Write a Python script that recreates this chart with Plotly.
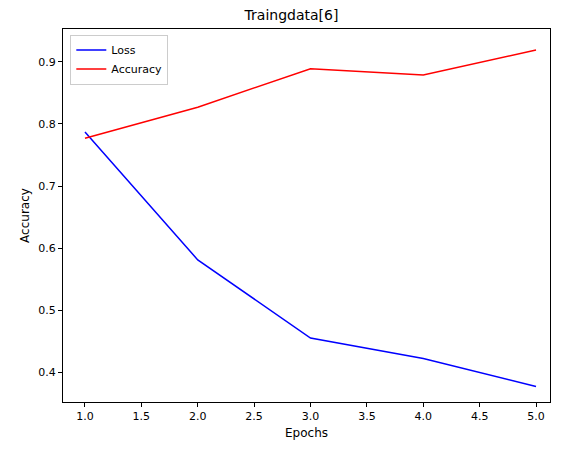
import plotly.graph_objects as go

epochs = [1, 2, 3, 4, 5]
loss = [0.787, 0.581, 0.455, 0.422, 0.377]
accuracy = [0.777, 0.827, 0.889, 0.879, 0.919]

fig = go.Figure()
fig.add_trace(go.Scatter(x=epochs, y=loss, mode="lines", name="Loss",
                         line=dict(color="blue", width=1.5)))
fig.add_trace(go.Scatter(x=epochs, y=accuracy, mode="lines", name="Accuracy",
                         line=dict(color="red", width=1.5)))

axis_style = dict(showgrid=False, zeroline=False, showline=True, mirror=True,
                  linecolor="black", linewidth=1, ticks="outside", ticklen=4,
                  tickcolor="black", tickfont=dict(size=11, color="black"))

fig.update_layout(
    width=567, height=455,
    margin=dict(l=55, r=25, t=21, b=61),
    paper_bgcolor="white", plot_bgcolor="white",
    font=dict(family="DejaVu Sans", color="black"),
    title=dict(text="Traingdata[6]", x=0.5, xanchor="center", y=0.985,
               yanchor="middle", font=dict(size=14)),
    legend=dict(x=0.015, y=0.985, xanchor="left", yanchor="top",
                bordercolor="#cccccc", borderwidth=1, bgcolor="white",
                font=dict(size=11)),
    showlegend=True,
)
fig.update_xaxes(range=[0.805, 5.124], tickvals=[1, 1.5, 2, 2.5, 3, 3.5, 4, 4.5, 5],
                 ticktext=["1.0", "1.5", "2.0", "2.5", "3.0", "3.5", "4.0", "4.5", "5.0"],
                 title=dict(text="Epochs", font=dict(size=12), standoff=6), **axis_style)
fig.update_yaxes(range=[0.352, 0.953], tickvals=[0.4, 0.5, 0.6, 0.7, 0.8, 0.9],
                 tickformat=".1f",
                 title=dict(text="Accuracy", font=dict(size=12), standoff=6), **axis_style)

fig.write_html("out.html")
